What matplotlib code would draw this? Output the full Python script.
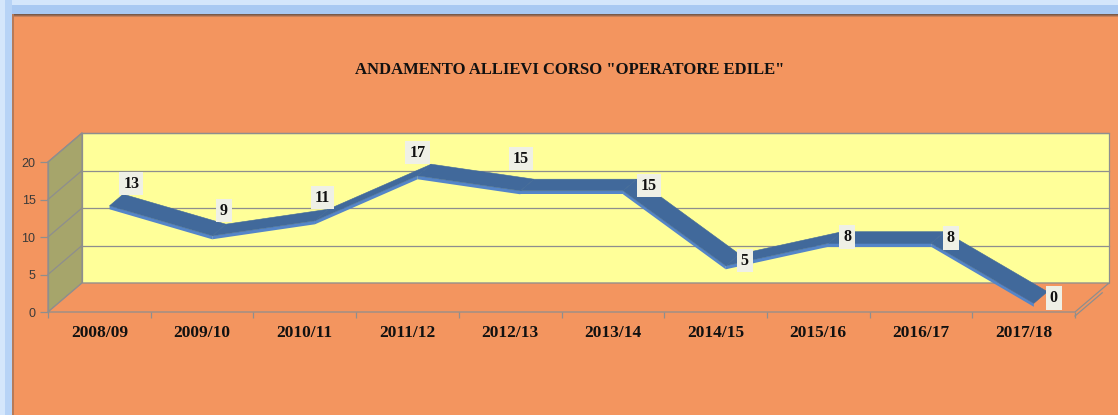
import numpy as np
import matplotlib
matplotlib.use("Agg")
import matplotlib.pyplot as plt
from matplotlib.patches import Polygon, Rectangle
from matplotlib.transforms import IdentityTransform

### Data.
anni = ["2008/09", "2009/10", "2010/11", "2011/12", "2012/13",
        "2013/14", "2014/15", "2015/16", "2016/17", "2017/18"]
allievi = [13, 9, 11, 17, 15, 15, 5, 8, 8, 0]
titolo = 'ANDAMENTO ALLIEVI CORSO "OPERATORE EDILE"'

### Style / layout.
ARANCIO = "#F3955F"
GIALLO = "#FFFF99"
OLIVA = "#A6A56B"
GRIGIO = "#8E8E8E"
BLU_TOP = "#41699B"
BLU_FRONT = "#5585C8"
DEPTH = np.array([34.0, 29.0])  # pixel offset of the back wall
F1, F2, THICK = 0.3, 0.7, 3.5    # ribbon depth range and thickness (px)
# label offsets in pixels (right, up) from the front point
label_off = [(32, 31), (22, 34), (18, 32), (10, 32), (11, 41),
             (36, 14), (29, 14), (29, 15), (30, 14), (30, 14)]

fig = plt.figure(figsize=(11.18, 4.15), dpi=100, facecolor=ARANCIO)

# light blue frame at top and left, with a soft shadow
for k, c in enumerate(["#7a5a48", "#9c6a50", "#c7805a"]):
    fig.patches.append(Rectangle((0, 1 - (15 + k) / 415), 1, 1 / 415, transform=fig.transFigure,
                                 facecolor=c, edgecolor="none", zorder=0))
fig.patches.append(Rectangle((0, 1 - 14 / 415), 1, 14 / 415, transform=fig.transFigure,
                             facecolor="#A9C9F2", edgecolor="none", zorder=1))
fig.patches.append(Rectangle((0, 1 - 5 / 415), 1, 5 / 415, transform=fig.transFigure,
                             facecolor="#D4E6FB", edgecolor="none", zorder=1))
fig.patches.append(Rectangle((12 / 1118, 0), 2 / 1118, 1 - 14 / 415, transform=fig.transFigure,
                             facecolor="#b77a58", edgecolor="none", zorder=0))
fig.patches.append(Rectangle((0, 0), 12 / 1118, 1, transform=fig.transFigure,
                             facecolor="#B7D3F6", edgecolor="none", zorder=1))
fig.patches.append(Rectangle((0, 0), 5 / 1118, 1, transform=fig.transFigure,
                             facecolor="#D4E6FB", edgecolor="none", zorder=1))

ax = fig.add_axes([48 / 1118, (415 - 312) / 415, 1027 / 1118, 150 / 415])
ax.set_xlim(0, 10)
ax.set_ylim(0, 20)
ax.patch.set_visible(False)
for s in ax.spines.values():
    s.set_visible(False)

ident = IdentityTransform()


def px(x, y, f=0.0):
    # data point -> display pixels, pushed back f of the depth
    return ax.transData.transform((x, y)) + f * DEPTH


def poly(pts, **kw):
    ax.add_patch(Polygon(np.array(pts), closed=True, transform=ident, clip_on=False, **kw))


def line(p, q, **kw):
    ax.add_line(plt.Line2D([p[0], q[0]], [p[1], q[1]], transform=ident, clip_on=False, **kw))


### Walls and floor.
poly([px(0, 0, 1), px(10, 0, 1), px(10, 20, 1), px(0, 20, 1)],
     facecolor=GIALLO, edgecolor=GRIGIO, lw=0.9, zorder=1)
poly([px(0, 0), px(0, 20), px(0, 20, 1), px(0, 0, 1)],
     facecolor=OLIVA, edgecolor=GRIGIO, lw=0.9, zorder=1)
poly([px(0, 0), px(10, 0), px(10, 0, 1), px(0, 0, 1)],
     facecolor=ARANCIO, edgecolor=GRIGIO, lw=0.9, zorder=1)
for v in range(5, 21, 5):
    line(px(0, v, 1), px(10, v, 1), color=GRIGIO, lw=0.9, zorder=2)
    line(px(0, v), px(0, v, 1), color=GRIGIO, lw=0.9, zorder=2)
line(px(0, 0), px(0, 20), color=GRIGIO, lw=0.9, zorder=2)
line(px(10, 0) + np.array([0, -4]), px(10, 0) + DEPTH * 0.8 + np.array([0, -4]), color=GRIGIO, lw=0.9, zorder=2)

### Axes ticks.
ax.set_yticks(range(0, 21, 5))
ax.tick_params(axis="y", direction="out", length=6, width=0.9, color=GRIGIO,
               labelsize=9, labelcolor="#3a3a3a", pad=3)
for t in ax.get_yticklabels():
    t.set_family("Liberation Sans")
ax.set_xticks(np.arange(len(anni)) + 0.5)
ax.set_xticklabels(anni, fontsize=12.5, fontweight="bold", family="Liberation Serif", color="#111111")
ax.set_xticks(np.arange(len(anni) + 1), minor=True)
ax.tick_params(axis="x", which="major", length=0, pad=9)
ax.tick_params(axis="x", which="minor", direction="out", length=4, width=0.9, color=GRIGIO)

### 3D-looking ribbon.
xs = np.arange(len(allievi)) + 0.5
z = 4
for i in range(len(allievi) - 1):
    a, b = (xs[i], allievi[i]), (xs[i + 1], allievi[i + 1])
    fa, fb = px(*a, F1), px(*b, F1)
    ba, bb = px(*a, F2), px(*b, F2)
    down = np.array([0, -THICK])
    poly([fa, fb, fb + down, fa + down], facecolor=BLU_FRONT, edgecolor="none", zorder=z)
    poly([fa, fb, bb, ba], facecolor=BLU_TOP, edgecolor=BLU_TOP, lw=0.4, zorder=z + 0.5)
    z += 1

### Data labels.
for x, v, (dx, dy) in zip(xs, allievi, label_off):
    ax.annotate(str(v), xy=(x, v), xytext=(dx * 0.72, dy * 0.72), textcoords="offset points",
                ha="center", va="center", fontsize=11.5, fontweight="bold",
                family="Liberation Serif", color="#111111", zorder=30,
                bbox=dict(boxstyle="square,pad=0.25", facecolor="#EFF0E6", edgecolor="none"))

fig.text(570 / 1118, 1 - 70 / 415, titolo, ha="center", va="center", fontsize=12,
         fontweight="bold", family="Liberation Serif", color="#111111")

fig.savefig("out.png", dpi=100, facecolor=fig.get_facecolor())
